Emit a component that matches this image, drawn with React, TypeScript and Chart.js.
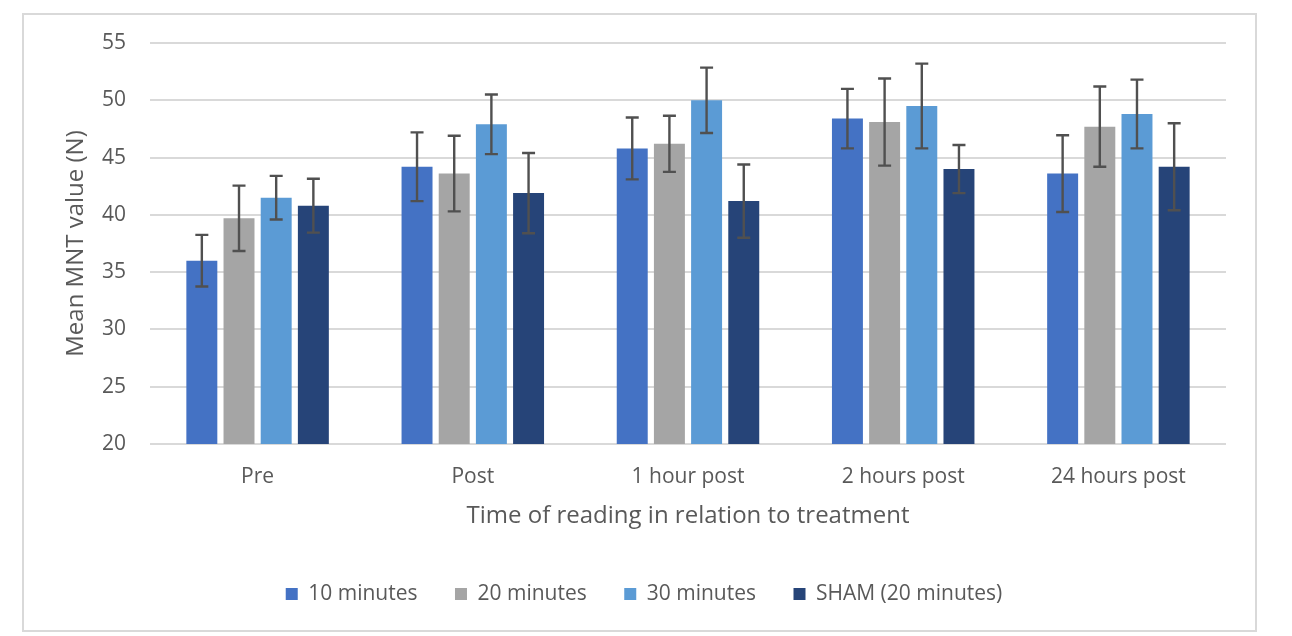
import React, { useEffect, useRef } from "react";
import { Chart, registerables } from "chart.js";

Chart.register(...registerables);

const categories = ["Pre", "Post", "1 hour post", "2 hours post", "24 hours post"];
const seriesNames = ["10 minutes", "20 minutes", "30 minutes", "SHAM (20 minutes)"];
const seriesColors = ["#4472C4", "#A5A5A5", "#5B9BD5", "#264478"];

const min10 = [36.0, 44.2, 45.8, 48.4, 43.6];
const min20 = [39.7, 43.6, 46.2, 48.1, 47.7];
const min30 = [41.5, 47.9, 50.0, 49.5, 48.8];
const sham = [40.8, 41.9, 41.2, 44.0, 44.2];

const err10 = [2.25, 3.0, 2.7, 2.6, 3.35];
const err20 = [2.85, 3.3, 2.45, 3.8, 3.5];
const err30 = [1.9, 2.6, 2.85, 3.7, 3.0];
const errSham = [2.35, 3.5, 3.2, 2.1, 3.8];

const yTicks = [20, 25, 30, 35, 40, 45, 50, 55];

const seriesValues = [min10, min20, min30, sham];
const seriesErrors = [err10, err20, err30, errSham];

const FONT = '"Open Sans", "DejaVu Sans", sans-serif';
const TEXT = "#595959";

const errorBarPlugin = {
  id: "errorBars",
  afterDatasetsDraw(chart: any) {
    const ctx = chart.ctx;
    const yScale = chart.scales.y;
    ctx.save();
    ctx.strokeStyle = "#505050";
    ctx.lineWidth = 2.4;
    chart.data.datasets.forEach((ds: any, di: number) => {
      const meta = chart.getDatasetMeta(di);
      if (meta.hidden) return;
      meta.data.forEach((el: any, i: number) => {
        const v = ds.data[i];
        const e = ds.errors[i];
        const x = el.x;
        const yT = yScale.getPixelForValue(v + e);
        const yB = yScale.getPixelForValue(v - e);
        const cap = 6.5;
        ctx.beginPath();
        ctx.moveTo(x, yT);
        ctx.lineTo(x, yB);
        ctx.moveTo(x - cap, yT);
        ctx.lineTo(x + cap, yT);
        ctx.moveTo(x - cap, yB);
        ctx.lineTo(x + cap, yB);
        ctx.stroke();
      });
    });
    ctx.restore();
  },
};

const framePlugin = {
  id: "frame",
  beforeDraw(chart: any) {
    const ctx = chart.ctx;
    ctx.save();
    ctx.fillStyle = "#ffffff";
    ctx.fillRect(0, 0, chart.width, chart.height);
    ctx.strokeStyle = "#D9D9D9";
    ctx.lineWidth = 2;
    ctx.strokeRect(23, 14, 1233, 617);
    ctx.restore();
  },
};

export default function App() {
  const ref = useRef<HTMLCanvasElement | null>(null);

  useEffect(() => {
    let chart: Chart | null = null;
    let cancelled = false;
    const make = () => {
      if (cancelled || !ref.current) return;
      chart = new Chart(ref.current, {
        type: "bar",
        data: {
          labels: categories,
          datasets: seriesNames.map((name, i) => ({
            label: name,
            data: seriesValues[i],
            errors: seriesErrors[i],
            backgroundColor: seriesColors[i],
            borderWidth: 0,
            categoryPercentage: 0.691,
            barPercentage: 0.833,
          })) as any,
        },
        options: {
          animation: false,
          responsive: false,
          maintainAspectRatio: false,
          layout: { padding: { left: 62, right: 66, top: 43, bottom: 21.5 } },
          plugins: {
            tooltip: { enabled: false },
            legend: {
              position: "bottom",
              labels: {
                boxWidth: 12,
                boxHeight: 12,
                padding: 37.5,
                color: TEXT,
                font: { family: FONT, size: 21 },
              },
            },
          },
          scales: {
            x: {
              grid: { display: false, drawTicks: false },
              border: { display: false },
              ticks: { color: TEXT, font: { family: FONT, size: 21 }, padding: 20 },
              title: {
                display: true,
                text: "Time of reading in relation to treatment",
                color: TEXT,
                font: { family: FONT, size: 24 },
                padding: { top: 0, bottom: 15 },
              },
              afterFit(scale: any) {
                scale.height = 102;
              },
            },
            y: {
              min: 20,
              max: 55,
              afterBuildTicks(scale: any) {
                scale.ticks = yTicks.map((v) => ({ value: v }));
              },
              grid: { color: "#D9D9D9", lineWidth: 2, drawTicks: false },
              border: { display: false },
              ticks: { color: TEXT, font: { family: FONT, size: 21 }, padding: 24 },
              title: {
                display: true,
                text: "Mean MNT value (N)",
                color: TEXT,
                font: { family: FONT, size: 24 },
                padding: 0,
              },
              afterFit(scale: any) {
                scale.width = 88;
              },
            },
          },
        },
        plugins: [framePlugin, errorBarPlugin],
      } as any);
    };
    const fonts: any = (document as any).fonts;
    if (fonts && fonts.load) {
      Promise.all([fonts.load('21px "Open Sans"'), fonts.load('24px "Open Sans"')])
        .catch(() => null)
        .then(make);
    } else {
      make();
    }
    return () => {
      cancelled = true;
      if (chart) chart.destroy();
    };
  }, []);

  return (
    <div style={{ position: "absolute", left: 0, top: 0, width: 1292, height: 636, background: "#fff" }}>
      <canvas ref={ref} width={1292} height={636} style={{ width: 1292, height: 636, display: "block" }} />
    </div>
  );
}
